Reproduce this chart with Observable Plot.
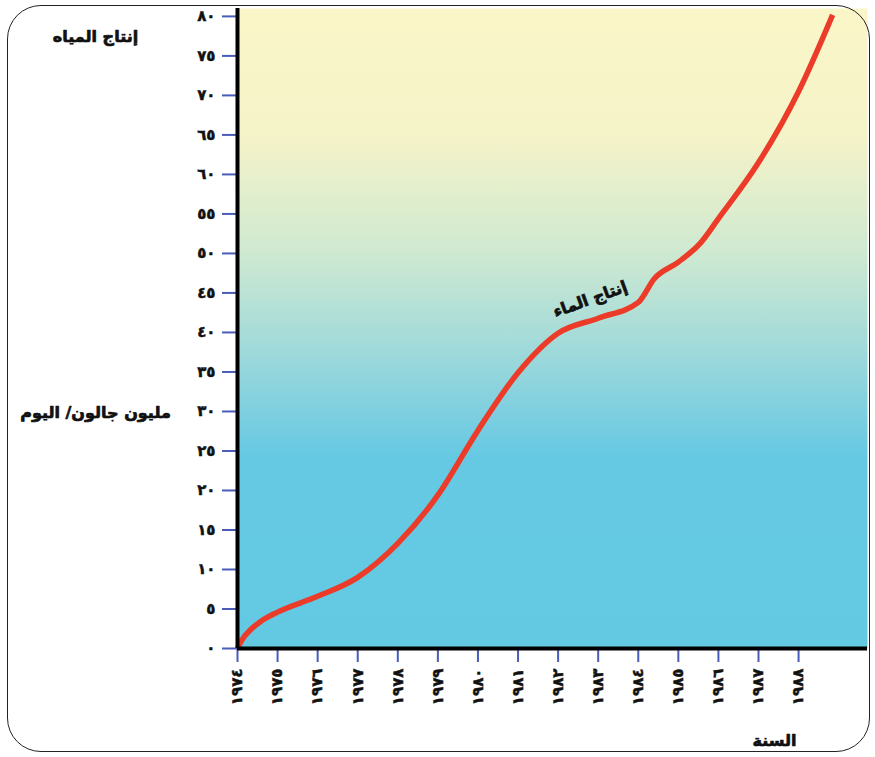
<!DOCTYPE html>
<html>
<head>
<meta charset="utf-8">
<script src="https://cdn.jsdelivr.net/npm/d3@7"></script>
<script src="https://cdn.jsdelivr.net/npm/@observablehq/plot@0.6"></script>
<style>
  html, body { margin: 0; padding: 0; background: #fff; }
  #wrap { position: relative; width: 875px; height: 757px; }
  #border { position: absolute; left: 7px; top: 5px; width: 861px; height: 745px;
            border: 1.5px solid #222; border-radius: 34px; pointer-events: none; }
  svg { font-family: "DejaVu Sans", sans-serif; }
  g[aria-label$="tick label"] { stroke: #111; stroke-width: 0.5px; paint-order: stroke; }
</style>
</head>
<body>
<div id="wrap"><div id="border"></div></div>
<script>
// Data
const years = [1974, 1974.1, 1974.33, 1974.6, 1975, 1976, 1977, 1978, 1979, 1980, 1981, 1982, 1983, 1984, 1984.4, 1985, 1985.55, 1986, 1987, 1988, 1988.85];
const production = [0, 1.0, 2.4, 3.5, 4.6, 6.6, 9, 13.3, 19.4, 27.6, 34.9, 39.9, 41.8, 43.8, 46.8, 48.9, 51.3, 54.4, 61.5, 70.5, 80.2];
const xTicks = [1974, 1975, 1976, 1977, 1978, 1979, 1980, 1981, 1982, 1983, 1984, 1985, 1986, 1987, 1988];
const yTicks = [0, 5, 10, 15, 20, 25, 30, 35, 40, 45, 50, 55, 60, 65, 70, 75, 80];
const titleTop = "إنتاج المياه";
const titleUnit = "مليون جالون/ اليوم";
const titleX = "السنة";
const lineLabel = "إنتاج الماء";

const arabicDigits = "٠١٢٣٤٥٦٧٨٩";
const toArabic = n => String(n).replace(/[0-9]/g, d => arabicDigits[+d]);

const data = years.map((y, i) => ({year: y, value: production[i]}));
const blue = "#4a5cb8";
const textStyle = {fontWeight: "bold", fill: "#111", stroke: "#111", strokeWidth: 0.7, textAnchor: "middle"};

const chart = Plot.plot({
  width: 875,
  height: 757,
  marginLeft: 237,
  marginTop: 8,
  marginRight: 8,
  marginBottom: 109,
  style: {fontFamily: "DejaVu Sans, sans-serif", background: "transparent"},
  x: {domain: [1974, 1989.72]},
  y: {domain: [0, 81]},
  marks: [
    Plot.frame({fill: "url(#bgGrad)", stroke: null}),
    Plot.axisY({ticks: yTicks, tickFormat: toArabic, tickSize: 15, tickPadding: 7,
      stroke: blue, strokeWidth: 2, fill: "#111", fontSize: 15, fontWeight: "bold", label: null}),
    Plot.axisX({ticks: xTicks, tickFormat: toArabic, tickSize: 14, tickPadding: 6, tickRotate: -90,
      stroke: blue, strokeWidth: 2, fill: "#111", fontSize: 15, fontWeight: "bold", label: null}),
    Plot.line(data, {x: "year", y: "value", stroke: "#ec3b28", strokeWidth: 5.5, curve: "monotone-x", strokeLinecap: "butt"}),
    Plot.ruleX([1974], {stroke: "#000", strokeWidth: 4}),
    Plot.ruleY([0], {stroke: "#000", strokeWidth: 4}),
    Plot.text([titleTop], {frameAnchor: "top-left", dx: -142, dy: 22, fontSize: 16, ...textStyle}),
    Plot.text([titleUnit], {x: () => 1974, y: () => 29.8, dx: -142, fontSize: 16, ...textStyle}),
    Plot.text([titleX], {x: () => 1987.4, y: () => 0, dy: 92, fontSize: 16, ...textStyle}),
    Plot.text([lineLabel], {x: () => 1982.8, y: () => 44.2, rotate: -20, fontSize: 16, ...textStyle})
  ]
});

const ns = "http://www.w3.org/2000/svg";
const defs = document.createElementNS(ns, "defs");
defs.innerHTML = `<linearGradient id="bgGrad" x1="0" y1="0" x2="0" y2="1">
  <stop offset="0" stop-color="#faf6c8"/>
  <stop offset="0.2" stop-color="#f5f3c8"/>
  <stop offset="0.38" stop-color="#cfe9d1"/>
  <stop offset="0.52" stop-color="#a4dbd9"/>
  <stop offset="0.62" stop-color="#82d0df"/>
  <stop offset="0.7" stop-color="#66c9e3"/>
  <stop offset="1" stop-color="#63c9e3"/>
</linearGradient>`;
chart.insertBefore(defs, chart.firstChild);
document.getElementById("wrap").insertBefore(chart, document.getElementById("border"));
</script>
</body>
</html>
